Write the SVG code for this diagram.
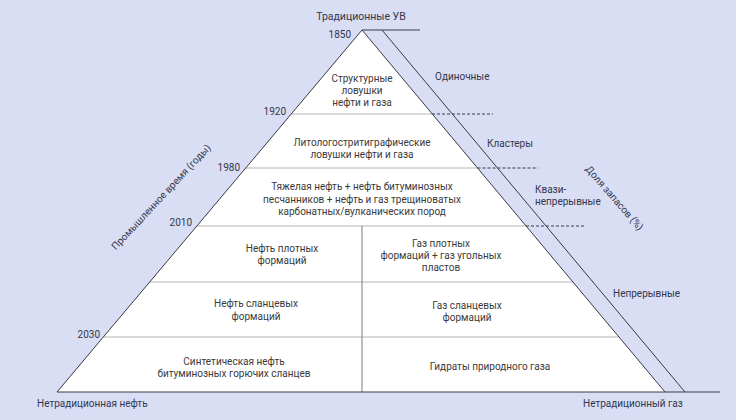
<svg xmlns="http://www.w3.org/2000/svg" width="736" height="420" viewBox="0 0 736 420">
<style>
text{font-family:Roboto,"Liberation Sans",sans-serif;font-size:10px;fill:#3a3a3a}
.c{text-anchor:middle}
.r{text-anchor:end}
.cell{fill:#fff;stroke:none}
.sep{stroke:#b4b4b4;stroke-width:1;fill:none}
.edge{stroke:#3a3a44;stroke-width:1;fill:none}
.dash{stroke:#3a3a44;stroke-width:1;stroke-dasharray:3 2;fill:none}
.lab{fill:#33364a}
</style>
<rect x="0" y="0" width="736" height="420" fill="#d9def5"/>

<g id="row1">
<polygon class="cell" points="362,30 291.2,114 432.3,114"/>
<text class="c" x="362" y="82">Структурные</text>
<text class="c" x="362" y="94">ловушки</text>
<text class="c" x="362" y="106">нефти и газа</text>
</g>
<g id="row2">
<polygon class="cell" points="291.2,114 432.3,114 477.5,168 245.7,168"/>
<text class="c" x="362" y="146">Литологостритиграфические</text>
<text class="c" x="362" y="158">ловушки нефти и газа</text>
</g>
<g id="row3">
<polygon class="cell" points="245.7,168 477.5,168 526.1,226 196.9,226"/>
<text class="c" x="362" y="190">Тяжелая нефть + нефть битуминозных</text>
<text class="c" x="362" y="202.5">песчанников + нефть и газ трещиноватых</text>
<text class="c" x="362" y="215">карбонатных/вулканических пород</text>
</g>
<g id="oil-tight">
<polygon class="cell" points="196.9,226 362,226 362,282 149.7,282"/>
<text class="c" x="282" y="251.5">Нефть плотных</text>
<text class="c" x="282" y="263.5">формаций</text>
</g>
<g id="gas-tight">
<polygon class="cell" points="362,226 526.1,226 572.9,282 362,282"/>
<text class="c" x="441" y="246.5">Газ плотных</text>
<text class="c" x="441" y="258.5">формаций + газ угольных</text>
<text class="c" x="441" y="270.5">пластов</text>
</g>
<g id="oil-shale">
<polygon class="cell" points="149.7,282 362,282 362,337 103.4,337"/>
<text class="c" x="256" y="307">Нефть сланцевых</text>
<text class="c" x="256" y="319.5">формаций</text>
</g>
<g id="gas-shale">
<polygon class="cell" points="362,282 572.9,282 618.9,337 362,337"/>
<text class="c" x="467" y="308.5">Газ сланцевых</text>
<text class="c" x="467" y="320.5">формаций</text>
</g>
<g id="oil-synthetic">
<polygon class="cell" points="103.4,337 362,337 362,392 57,392"/>
<text class="c" x="234" y="364.5">Синтетическая нефть</text>
<text class="c" x="234" y="376.5">битуминозных горючих сланцев</text>
</g>
<g id="gas-hydrates">
<polygon class="cell" points="362,337 618.9,337 665,392 362,392"/>
<text class="c" x="490" y="369.5">Гидраты природного газа</text>
</g>

<g id="connectors">
<line class="sep" x1="291.2" y1="114" x2="432.3" y2="114"/>
<line class="sep" x1="245.7" y1="168" x2="477.5" y2="168"/>
<line class="sep" x1="196.9" y1="226" x2="526.1" y2="226"/>
<line class="sep" x1="149.7" y1="282" x2="572.9" y2="282"/>
<line class="sep" x1="103.4" y1="337" x2="618.9" y2="337"/>
<line x1="362" y1="226" x2="362" y2="392" stroke="#7a7a7a" stroke-width="1"/>
<polyline class="edge" points="57,392 362,30 665,392"/>
<line class="edge" x1="362" y1="30" x2="420" y2="30"/>
<line class="edge" x1="382" y1="30" x2="685" y2="392"/>
<line class="edge" x1="57" y1="392" x2="720" y2="392"/>
<line class="dash" x1="432" y1="114" x2="493" y2="114"/>
<line class="dash" x1="477.5" y1="168" x2="538" y2="168"/>
<line class="dash" x1="526" y1="226" x2="584" y2="226"/>
</g>

<g id="labels">
<text class="c lab" x="361" y="20" style="font-size:10.5px">Традиционные УВ</text>
<text class="r lab" x="351" y="38">1850</text>
<text class="r lab" x="286" y="114.5">1920</text>
<text class="r lab" x="240" y="170.5">1980</text>
<text class="r lab" x="192" y="226">2010</text>
<text class="r lab" x="100" y="338">2030</text>
<text class="lab" x="435" y="80">Одиночные</text>
<text class="lab" x="487" y="146.5">Кластеры</text>
<text class="lab" x="535" y="192.5">Квази-</text>
<text class="lab" x="535" y="204.5">непрерывные</text>
<text class="lab" x="613" y="296.5">Непрерывные</text>
<text class="c lab" transform="translate(614.5 198) rotate(49)" x="0" y="3.5">Доля запасов (%)</text>
<text class="c lab" transform="translate(161 197) rotate(-47)" x="0" y="3.5">Промышленное время (годы)</text>
<text class="lab" x="37" y="407">Нетрадиционная нефть</text>
<text class="lab" x="583" y="407">Нетрадиционный газ</text>
</g>
</svg>
